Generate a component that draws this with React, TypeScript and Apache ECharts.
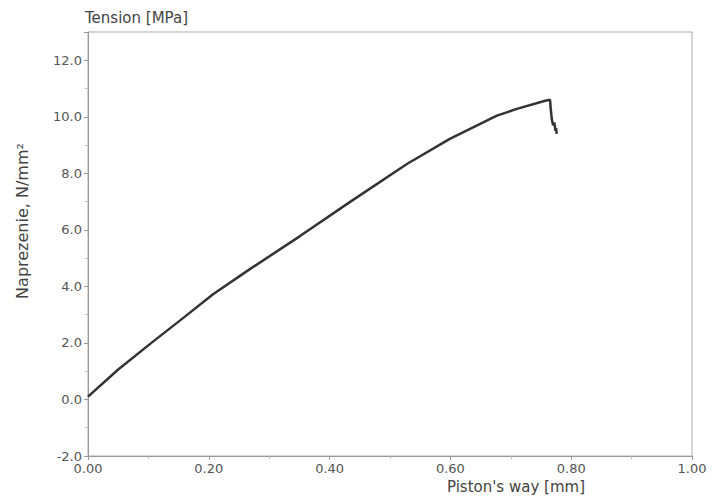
import React, { useEffect, useRef } from "react";
import * as echarts from "echarts";

const wayMm = [0.0, 0.05, 0.106, 0.161, 0.207, 0.268, 0.351, 0.434, 0.528, 0.599, 0.677, 0.71, 0.757, 0.765, 0.766, 0.768, 0.77, 0.772, 0.774, 0.775, 0.776];
const tensionMPa = [0.1, 1.06, 2.02, 2.94, 3.72, 4.61, 5.78, 6.99, 8.33, 9.22, 10.04, 10.28, 10.57, 10.6, 10.3, 9.9, 9.7, 9.8, 9.5, 9.6, 9.4];

const xTickLabels = ["0.00", "0.20", "0.40", "0.60", "0.80", "1.00"];
const yTickLabels = ["-2.0", "0.0", "2.0", "4.0", "6.0", "8.0", "10.0", "12.0"];

export default function App() {
  const ref = useRef<HTMLDivElement>(null);
  useEffect(() => {
    const chart = echarts.init(ref.current!, undefined, { renderer: "svg" });
    const font = "DejaVu Sans";
    chart.setOption({
      animation: false,
      backgroundColor: "#fff",
      textStyle: { fontFamily: font },
      title: {
        text: "Tension [MPa]",
        left: 85,
        top: 10,
        padding: 0,
        textStyle: { fontSize: 15, fontWeight: "normal", color: "#444", fontFamily: font },
      },
      graphic: [
        {
          type: "text",
          x: 22,
          y: 221,
          rotation: Math.PI / 2,
          style: {
            text: "Naprezenie, N/mm²",
            fontFamily: font,
            fontSize: 16,
            fill: "#444",
            align: "center",
            verticalAlign: "middle",
          },
        },
      ],
      grid: { left: 88, right: 26, top: 32, bottom: 48, show: true, borderColor: "#aaa", borderWidth: 1 },
      xAxis: {
        type: "value",
        min: 0,
        max: 1,
        interval: 0.2,
        name: "Piston's way [mm]",
        nameLocation: "end",
        nameGap: 0,
        nameTextStyle: { color: "#444", fontSize: 15, align: "right", verticalAlign: "top", padding: [23, 107, 0, 0] },
        axisLine: { show: true, onZero: false, lineStyle: { color: "#999" } },
        axisTick: { show: true, length: 4, lineStyle: { color: "#999" } },
        minorTick: { show: true, splitNumber: 2, length: 3, lineStyle: { color: "#bbb" } },
        splitLine: { show: false },
        axisLabel: {
          color: "#555",
          fontSize: 13,
          margin: 6,
          formatter: (v: number) => xTickLabels[Math.round(v / 0.2)] ?? "",
        },
      },
      yAxis: {
        type: "value",
        min: -2,
        max: 13,
        interval: 2,
        axisLine: { show: true, onZero: false, lineStyle: { color: "#999" } },
        axisTick: { show: true, length: 4, lineStyle: { color: "#999" } },
        minorTick: { show: true, splitNumber: 2, length: 3, lineStyle: { color: "#bbb" } },
        splitLine: { show: false },
        axisLabel: {
          color: "#555",
          fontSize: 13,
          margin: 6,
          formatter: (v: number) => {
            const i = Math.round((v + 2) / 2);
            return Math.abs(v + 2 - i * 2) < 1e-6 ? yTickLabels[i] ?? "" : "";
          },
        },
      },
      series: [
        {
          type: "line",
          data: wayMm.map((x, i) => [x, tensionMPa[i]]),
          showSymbol: false,
          lineStyle: { color: "#333", width: 2.5 },
          itemStyle: { color: "#333" },
        },
      ],
    });
    return () => chart.dispose();
  }, []);
  return <div ref={ref} style={{ width: 718, height: 504, margin: -8 }} />;
}
